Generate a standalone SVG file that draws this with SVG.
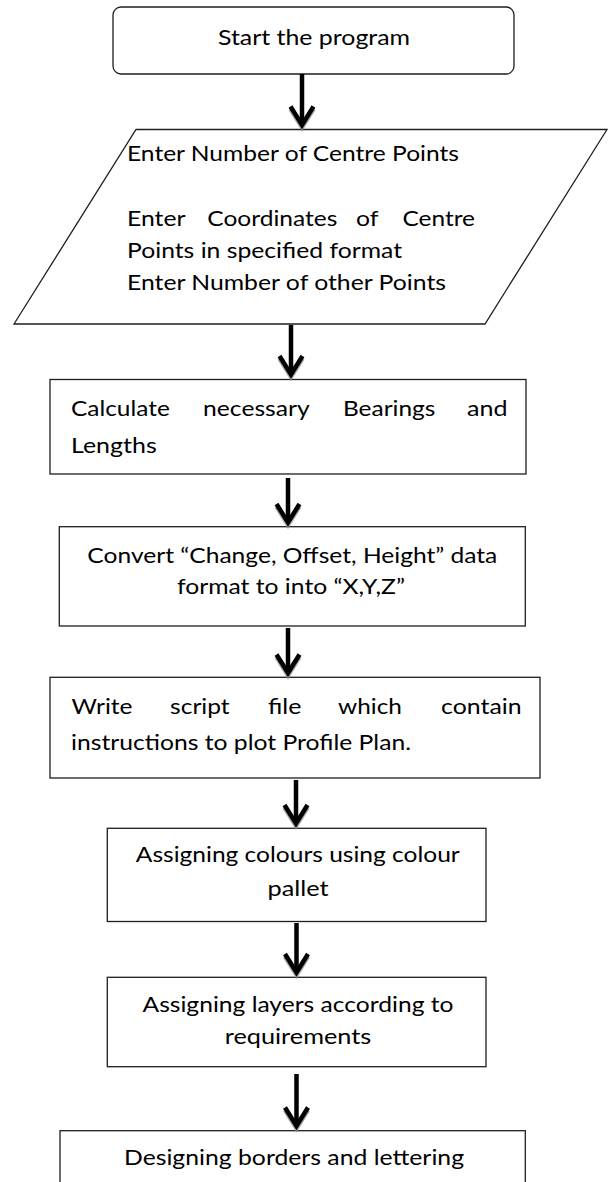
<svg xmlns="http://www.w3.org/2000/svg" width="610" height="1182" viewBox="0 0 610 1182">
<style>
.box{fill:#fff;stroke:#1e1e1e;stroke-width:1.3}
.t{font-family:Lato,"Liberation Sans",sans-serif;font-size:22px;fill:#000}
.c{text-anchor:middle}
.shaft{stroke:#000;stroke-width:4.5;fill:none}
.hd{fill:none;stroke:#000;stroke-width:4.5;stroke-linejoin:miter}
.hs{fill:none;stroke:#8c8c8c;stroke-width:4.5;stroke-linejoin:miter;opacity:0.75}
</style>
<defs>
<g id="head">
<polyline class="hs" points="-11.5,-20.5 0,-2 11.5,-20.5"/>
<polyline class="hd" points="-11.5,-23 0,-4.5 11.5,-23"/>
</g>
</defs>
<rect x="0" y="0" width="610" height="1182" fill="#fff"/>

<g id="start">
<rect class="box" x="113" y="7" width="401" height="67" rx="8"/>
<text class="t c" x="314" y="45" textLength="192" lengthAdjust="spacingAndGlyphs">Start the program</text>
</g>

<g id="input">
<polygon class="box" points="136,129.5 607,129.5 485,324 14,324"/>
<text class="t" x="127" y="161" textLength="332" lengthAdjust="spacingAndGlyphs">Enter Number of Centre Points</text>
<text class="t" y="226"><tspan x="127" textLength="58" lengthAdjust="spacingAndGlyphs">Enter</tspan> <tspan x="207.3" textLength="130" lengthAdjust="spacingAndGlyphs">Coordinates</tspan> <tspan x="356" textLength="22" lengthAdjust="spacingAndGlyphs">of</tspan> <tspan x="402.4" textLength="72.6" lengthAdjust="spacingAndGlyphs">Centre</tspan></text>
<text class="t" x="127" y="258" textLength="275" lengthAdjust="spacingAndGlyphs">Points in specified format</text>
<text class="t" x="127" y="290" textLength="319" lengthAdjust="spacingAndGlyphs">Enter Number of other Points</text>
</g>

<g id="calc">
<rect class="box" x="50" y="379.5" width="476" height="94.5"/>
<text class="t" y="416"><tspan x="71" textLength="98.8" lengthAdjust="spacingAndGlyphs">Calculate</tspan> <tspan x="203" textLength="106.2" lengthAdjust="spacingAndGlyphs">necessary</tspan> <tspan x="343" textLength="92.4" lengthAdjust="spacingAndGlyphs">Bearings</tspan> <tspan x="467" textLength="40.5" lengthAdjust="spacingAndGlyphs">and</tspan></text>
<text class="t" x="71" y="453" textLength="85.7" lengthAdjust="spacingAndGlyphs">Lengths</text>
</g>

<g id="convert">
<rect class="box" x="59.3" y="526.7" width="466" height="99.3"/>
<text class="t c" x="292.3" y="562.5" textLength="410" lengthAdjust="spacingAndGlyphs">Convert “Change, Offset, Height” data</text>
<text class="t c" x="291" y="594" textLength="228" lengthAdjust="spacingAndGlyphs">format to into “X,Y,Z”</text>
</g>

<g id="write">
<rect class="box" x="50" y="677.3" width="490" height="100.7"/>
<text class="t" y="713.5"><tspan x="71.6" textLength="61" lengthAdjust="spacingAndGlyphs">Write</tspan> <tspan x="170" textLength="59.7" lengthAdjust="spacingAndGlyphs">script</tspan> <tspan x="268" textLength="33.4" lengthAdjust="spacingAndGlyphs">file</tspan> <tspan x="338" textLength="64" lengthAdjust="spacingAndGlyphs">which</tspan> <tspan x="441" textLength="80.6" lengthAdjust="spacingAndGlyphs">contain</tspan></text>
<text class="t" x="71" y="749.5" textLength="340" lengthAdjust="spacingAndGlyphs">instructions to plot Profile Plan.</text>
</g>

<g id="colours">
<rect class="box" x="107.3" y="828.3" width="378.7" height="93.2"/>
<text class="t c" x="297.8" y="862" textLength="324" lengthAdjust="spacingAndGlyphs">Assigning colours using colour</text>
<text class="t c" x="298" y="896" textLength="61" lengthAdjust="spacingAndGlyphs">pallet</text>
</g>

<g id="layers">
<rect class="box" x="107.3" y="977.3" width="378.7" height="89.4"/>
<text class="t c" x="298" y="1012" textLength="311" lengthAdjust="spacingAndGlyphs">Assigning layers according to</text>
<text class="t c" x="298" y="1044" textLength="146.5" lengthAdjust="spacingAndGlyphs">requirements</text>
</g>

<g id="borders">
<rect class="box" x="60" y="1130.7" width="465.3" height="80"/>
<text class="t c" x="294" y="1165" textLength="340" lengthAdjust="spacingAndGlyphs">Designing borders and lettering</text>
</g>

<g id="connectors">
<line class="shaft" x1="302" y1="74" x2="302" y2="122"/>
<use href="#head" x="302" y="129.5"/>
<line class="shaft" x1="291" y1="325" x2="291" y2="371"/>
<use href="#head" x="291" y="379"/>
<line class="shaft" x1="288" y1="478" x2="288" y2="519"/>
<use href="#head" x="288" y="527"/>
<line class="shaft" x1="288" y1="628" x2="288" y2="670"/>
<use href="#head" x="288" y="677.5"/>
<line class="shaft" x1="296" y1="780" x2="296" y2="820"/>
<use href="#head" x="296" y="828"/>
<line class="shaft" x1="296.5" y1="923" x2="296.5" y2="969"/>
<use href="#head" x="296.5" y="977"/>
<line class="shaft" x1="296.5" y1="1074" x2="296.5" y2="1123"/>
<use href="#head" x="296.5" y="1130.5"/>
</g>
</svg>
